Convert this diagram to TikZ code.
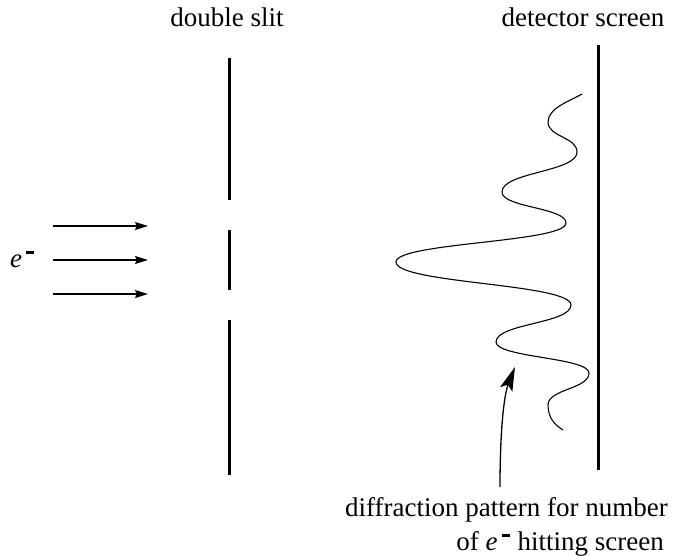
\documentclass[tikz,border=0pt]{standalone}
\usepackage{fontspec}
\setmainfont{Liberation Serif}
\usetikzlibrary{arrows.meta}
\newcommand\elecsym{\textit{e}\hspace{4pt}\raisebox{0.5em}{\rule{8pt}{2.6pt}}}
\begin{document}
\begin{tikzpicture}[x=1pt,y=-1pt,
  wall/.style={line width=3pt},
  beam/.style={line width=1.3pt,-{Stealth[length=13pt,width=8pt,inset=2pt]}},
  wave/.style={line width=1.1pt},
  pointer/.style={line width=1.3pt,-{Stealth[length=24pt,width=13pt,inset=5pt]}},
  lbl/.style={font=\fontsize{27}{34}\selectfont, inner sep=0pt}]
\useasboundingbox (0,0) rectangle (676,555);
% double slit
\coordinate (s1a) at (229,58);  \coordinate (s1b) at (229,200);
\coordinate (s2a) at (229,230); \coordinate (s2b) at (229,290);
\coordinate (s3a) at (229,320); \coordinate (s3b) at (229,475);
\draw[wall] (s1a) -- (s1b);
\draw[wall] (s2a) -- (s2b);
\draw[wall] (s3a) -- (s3b);
% screen
\coordinate (scA) at (598,45); \coordinate (scB) at (598,470);
\draw[wall] (scA) -- (scB);
% labels
\node[lbl] (ds) at (227,17) {double slit};
\node[lbl] (dsc) at (583,17) {detector screen};
\node[lbl, anchor=base west] (el) at (10,267) {\elecsym};
% beams
\coordinate (b1a) at (53,226); \coordinate (b1b) at (148,226);
\coordinate (b2a) at (53,260); \coordinate (b2b) at (148,260);
\coordinate (b3a) at (53,294); \coordinate (b3b) at (148,294);
\draw[beam] (b1a) -- (b1b);
\draw[beam] (b2a) -- (b2b);
\draw[beam] (b3a) -- (b3b);
% diffraction pattern
\draw[wave] (582,94) .. controls (570,101) and (548,108) .. (548,122)
  .. controls (548,137) and (577,137) .. (577,152)
  .. controls (577,172) and (502,172) .. (502,192)
  .. controls (502,207.5) and (566,207.5) .. (566,223)
  .. controls (566,242.5) and (396,242.5) .. (396,262)
  .. controls (396,283.5) and (571,283.5) .. (571,305)
  .. controls (571,323.5) and (496,323.5) .. (496,342)
  .. controls (496,357.5) and (589,357.5) .. (589,373)
  .. controls (589,389) and (548,389) .. (548,405)
  .. controls (548,418) and (555,425) .. (563,430);
% caption
\node[lbl, align=right, anchor=north east] (cap) at (668,497) {diffraction pattern for number\\of \elecsym\hspace{8pt}hitting screen\hspace*{4pt}};
\coordinate (tip) at (515,367);
\coordinate (tail) at (500,487);
\draw[pointer] (tail) .. controls (500,430) and (504,395) .. (tip);
\end{tikzpicture}
\end{document}
